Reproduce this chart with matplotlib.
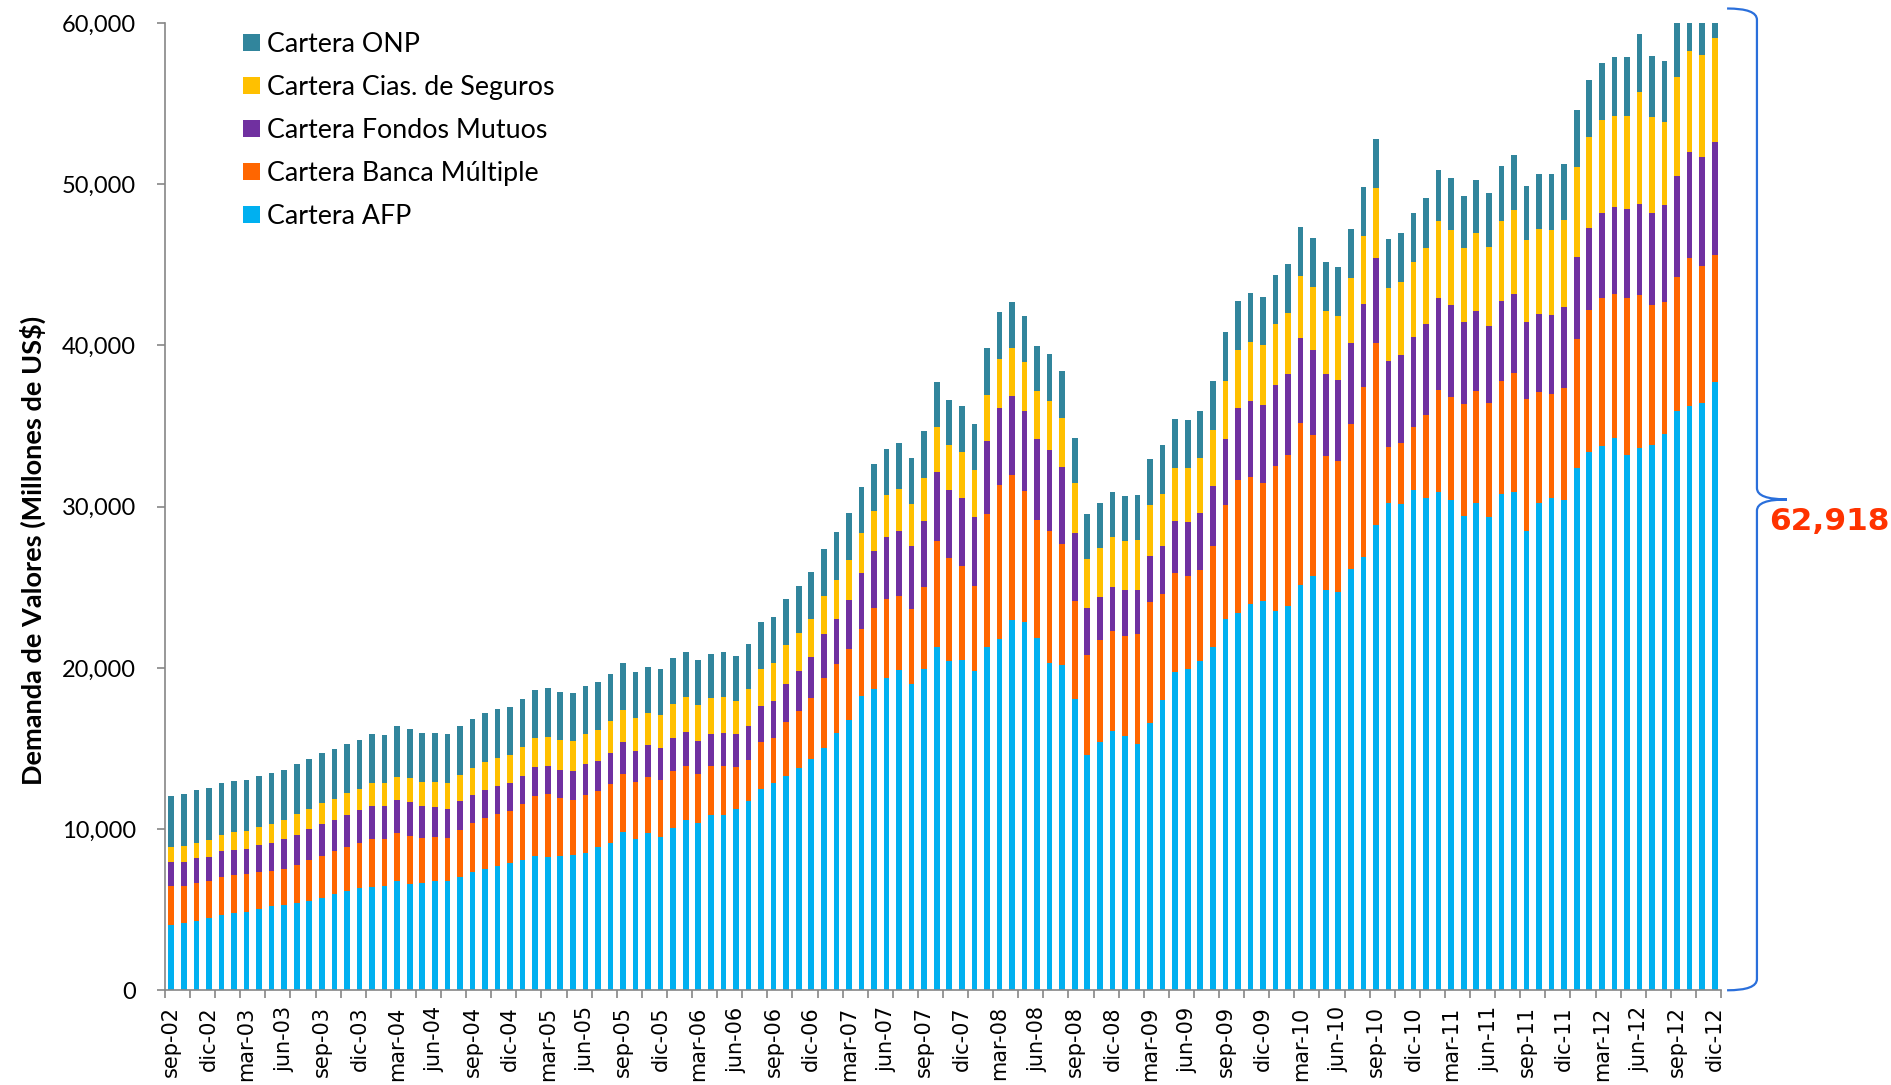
import numpy as np
import matplotlib
matplotlib.use("Agg")
import matplotlib.pyplot as plt
from matplotlib.patches import Patch, PathPatch
from matplotlib.path import Path
import matplotlib.transforms as mtransforms
from matplotlib.ticker import FuncFormatter

# ---------------- data (millones de US$), sep-02 ... dic-12, monthly ----------------
afp = [4060, 4180, 4310, 4510, 4700, 4820, 4860, 5070, 5220, 5300, 5400, 5550, 5750, 5960, 6150, 6330,
       6420, 6440, 6750, 6620, 6640, 6750, 6750, 7000, 7310, 7530, 7740, 7890, 8070, 8340, 8240, 8320,
       8380, 8530, 8880, 9130, 9790, 9380, 9750, 9520, 10040, 10540, 10370, 10880, 10880, 11250, 11730,
       12470, 12830, 13290, 13780, 14350, 15020, 15940, 16740, 18260, 18700, 19370, 19850, 18980, 19940,
       21300, 20420, 20490, 19830, 21270, 21820, 22980, 22870, 21880, 20320, 20160, 18080, 14620, 15420,
       16090, 15780, 15290, 16610, 18000, 19740, 19910, 20410, 21270, 23010, 23430, 23990, 24130, 23540,
       23850, 25140, 25700, 24860, 24720, 26150, 26890, 28870, 30200, 30160, 31030, 30550, 30930, 30410,
       29430, 30200, 29370, 30790, 30910, 28490, 30200, 30520, 30400, 32380, 33370, 33770, 34240, 33210,
       33610, 33840, 34520, 35940, 36260, 36420, 37730]
banca = [2380, 2260, 2360, 2280, 2340, 2340, 2360, 2280, 2190, 2240, 2380, 2530, 2610, 2670, 2710, 2820,
         2980, 2960, 3000, 2960, 2820, 2770, 2690, 2960, 3060, 3150, 3170, 3230, 3460, 3730, 3930, 3580,
         3440, 3600, 3500, 3660, 3640, 3540, 3460, 3520, 3560, 3370, 3040, 3040, 3040, 2600, 2530, 2920,
         2810, 3360, 3540, 3770, 4370, 4300, 4440, 4160, 5040, 4880, 4600, 4670, 5080, 6600, 6420, 5810,
         5230, 8250, 9530, 8970, 8110, 7310, 8140, 7530, 6060, 6200, 6290, 6170, 6200, 6780, 7450, 6560,
         6120, 5790, 5680, 6290, 7090, 8220, 7880, 7360, 9000, 9380, 10040, 8720, 8260, 8120, 8960, 10530,
         11260, 3520, 3800, 3940, 5130, 6280, 6420, 6940, 6970, 7090, 7010, 7410, 8160, 6940, 6460, 6940,
         8050, 8800, 9150, 8920, 9710, 9510, 8640, 8200, 8280, 9150, 8480, 7890]
fondos = [1490, 1530, 1510, 1490, 1570, 1570, 1570, 1660, 1720, 1820, 1880, 1900, 1970, 1950, 1990, 2010,
          2050, 2010, 2070, 2070, 1950, 1860, 1820, 1800, 1760, 1760, 1780, 1740, 1760, 1780, 1740, 1780,
          1800, 1880, 1860, 1930, 1990, 1950, 1990, 2010, 2030, 2090, 2070, 2000, 2070, 2050, 2120, 2230,
          2300, 2370, 2480, 2550, 2690, 2780, 3010, 3450, 3500, 3860, 4050, 3910, 4070, 4260, 4190, 4240,
          4320, 4540, 4790, 4930, 4960, 4980, 5040, 4760, 4240, 2910, 2690, 2770, 2820, 2770, 2880, 3020,
          3240, 3320, 3520, 3740, 4100, 4490, 4710, 4810, 5020, 5020, 5270, 5300, 5130, 5020, 5060, 5130,
          5270, 5340, 5470, 5580, 5680, 5750, 5680, 5060, 4950, 4760, 4950, 4870, 4830, 4830, 4910, 5070,
          5070, 5110, 5310, 5430, 5550, 5630, 5750, 5980, 6260, 6580, 6780, 6970]
seguros = [930, 990, 970, 1040, 1040, 1080, 1120, 1140, 1200, 1220, 1260, 1260, 1300, 1300, 1370, 1320,
           1390, 1430, 1430, 1490, 1510, 1550, 1590, 1610, 1680, 1720, 1740, 1760, 1800, 1820, 1820, 1860,
           1860, 1900, 1930, 1970, 1990, 2010, 2010, 2050, 2110, 2190, 2190, 2190, 2210, 2050, 2300, 2320,
           2350, 2370, 2370, 2370, 2350, 2440, 2480, 2480, 2480, 2600, 2600, 2580, 2710, 2760, 2780, 2850,
           2880, 2880, 3020, 2960, 3020, 2990, 3050, 3050, 3070, 3050, 3050, 3100, 3070, 3070, 3160, 3180,
           3270, 3350, 3380, 3460, 3570, 3570, 3630, 3700, 3770, 3770, 3840, 3910, 3910, 3980, 4040, 4250,
           4360, 4500, 4530, 4600, 4670, 4780, 4670, 4640, 4870, 4870, 4990, 5190, 5070, 5230, 5270, 5350,
           5590, 5670, 5750, 5670, 5790, 6940, 5940, 5150, 6140, 6260, 6340, 6460]
onp = [3210, 3210, 3250, 3210, 3210, 3190, 3150, 3170, 3150, 3110, 3110, 3110, 3080, 3080, 3040, 3060,
       3040, 3020, 3130, 3060, 3060, 3020, 3040, 3040, 3020, 3020, 3000, 2980, 3000, 2980, 3000, 2960,
       2960, 2940, 2940, 2900, 2900, 2880, 2860, 2840, 2860, 2820, 2840, 2760, 2780, 2810, 2780, 2880,
       2880, 2900, 2900, 2920, 2970, 2940, 2920, 2880, 2900, 2880, 2830, 2880, 2900, 2820, 2800, 2880,
       2880, 2880, 2940, 2880, 2880, 2800, 2940, 2910, 2820, 2740, 2800, 2800, 2820, 2800, 2880, 3050,
       3050, 2990, 2960, 3020, 3070, 3020, 3030, 3030, 3030, 3030, 3030, 3030, 3000, 3030, 3030, 3000,
       3030, 3030, 3030, 3070, 3140, 3170, 3210, 3210, 3250, 3370, 3370, 3410, 3370, 3450, 3490, 3490,
       3490, 3490, 3530, 3650, 3610, 3650, 3770, 3800, 3850, 3850, 3850, 3870]

tick_labels = ["sep-02", "dic-02", "mar-03", "jun-03", "sep-03", "dic-03", "mar-04", "jun-04", "sep-04",
               "dic-04", "mar-05", "jun-05", "sep-05", "dic-05", "mar-06", "jun-06", "sep-06", "dic-06",
               "mar-07", "jun-07", "sep-07", "dic-07", "mar-08", "jun-08", "sep-08", "dic-08", "mar-09",
               "jun-09", "sep-09", "dic-09", "mar-10", "jun-10", "sep-10", "dic-10", "mar-11", "jun-11",
               "sep-11", "dic-11", "mar-12", "jun-12", "sep-12", "dic-12"]
total_label = "62,918"

series_names = ["Cartera AFP", "Cartera Banca Múltiple", "Cartera Fondos Mutuos",
                "Cartera Cias. de Seguros", "Cartera ONP"]
series_colors = ["#00B0F0", "#FF6600", "#7030A0", "#FFC000", "#31859C"]

# ---------------- figure ----------------
plt.rcParams["font.family"] = ["Lato", "DejaVu Sans"]
W, H = 1891, 1085
fig = plt.figure(figsize=(W / 100, H / 100), dpi=100)
ax_l, ax_r, ax_t, ax_b = 165, 1721, 23, 990.3
ax = fig.add_axes([ax_l / W, 1 - ax_b / H, (ax_r - ax_l) / W, (ax_b - ax_t) / H])

n = len(afp)
x = np.arange(n)
bottom = np.zeros(n)
for vals, name, col in zip([afp, banca, fondos, seguros, onp], series_names, series_colors):
    v = np.array(vals, dtype=float)
    ax.bar(x, v, 0.45, bottom=bottom, color=col, linewidth=0, label=name)
    bottom += v

ax.set_xlim(-0.5, n - 0.5)
ax.set_ylim(0, 60000)

for s in ["top", "right"]:
    ax.spines[s].set_visible(False)
for s in ["left", "bottom"]:
    ax.spines[s].set_color("#868686")
    ax.spines[s].set_linewidth(1.2)

ax.set_yticks(np.arange(0, 60001, 10000))
ax.yaxis.set_major_formatter(FuncFormatter(lambda v, p: f"{int(v):,}"))
ax.tick_params(axis="y", length=6, width=1.2, color="#868686", pad=15, labelsize=17)

ax.set_xticks(x[::3])
ax.set_xticklabels(tick_labels, rotation=90, family="DejaVu Sans", fontsize=15)
ax.tick_params(axis="x", which="major", length=0, pad=11.5)
ax.set_xticks(np.arange(-0.5, n, 2), minor=True)
ax.tick_params(axis="x", which="minor", length=6, width=1.2, color="#868686")

# legend (top series first)
handles = [Patch(facecolor=c, edgecolor="none") for c in series_colors[::-1]]
fig.legend(handles, series_names[::-1], loc="upper left", bbox_to_anchor=(243 / W, 1 - 32 / H),
           frameon=False, fontsize=19.3, handlelength=0.62, handleheight=0.62, handletextpad=0.26,
           labelspacing=0.67, borderpad=0, borderaxespad=0)

fig.text(33 / W, 1 - 550 / H, "Demanda de Valores (Millones de US$)", rotation=90, ha="center",
         va="center", fontsize=19.5, fontweight="bold")

# brace
trans = mtransforms.blended_transform_factory(ax.transAxes, ax.transData)
x0, xv, xt = 1.0039, 1.0231, 1.0424
ytop = 60900
ym = ytop / 2
r = 700
verts = [(x0, 0), (xv, 0), (xv, r), (xv, ym - r), (xv, ym), (xt, ym),
         (xv, ym), (xv, ym + r), (xv, ytop - r), (xv, ytop), (x0, ytop)]
codes = [Path.MOVETO, Path.CURVE3, Path.CURVE3, Path.LINETO, Path.CURVE3, Path.CURVE3,
         Path.CURVE3, Path.CURVE3, Path.LINETO, Path.CURVE3, Path.CURVE3]
ax.add_patch(PathPatch(Path(verts, codes), transform=trans, facecolor="none", edgecolor="#2A6FDB",
                       linewidth=1.6, clip_on=False))

fig.text(1769 / W, 1 - 522 / H, total_label, ha="left", va="center", fontsize=22.5, fontweight="bold",
         color="#FF3300", family="DejaVu Sans")

fig.savefig("out.png", dpi=100)
